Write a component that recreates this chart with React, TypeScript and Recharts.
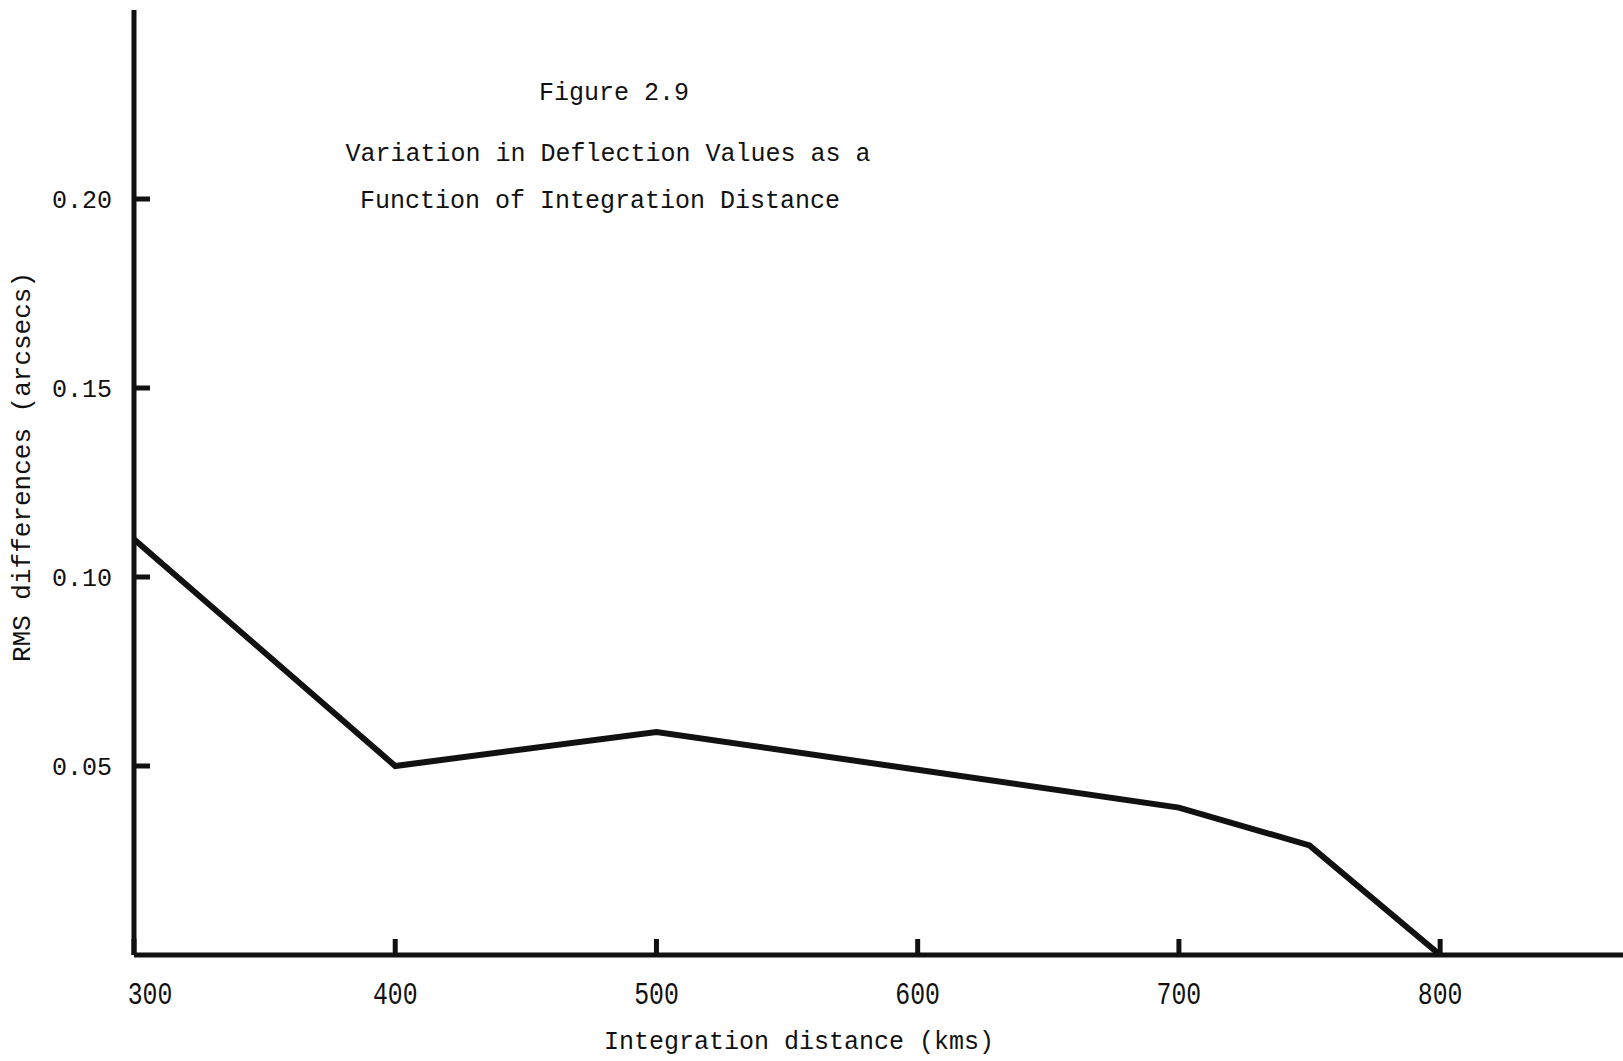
import { LineChart, Line, XAxis, YAxis } from 'recharts';

const distances = [300, 400, 500, 600, 700, 750, 800];
const rmsDiffs = [0.11, 0.05, 0.059, 0.049, 0.039, 0.029, 0.0];
const xTicks = [300, 400, 500, 600, 700, 800];
const yTicks = [0.05, 0.1, 0.15, 0.2];
const titleLines = ['Figure 2.9', 'Variation in Deflection Values as a', 'Function of Integration Distance'];

const data = distances.map((d, i) => ({ dist: d, rms: rmsDiffs[i] }));

const FONT = '"Liberation Mono", "DejaVu Sans Mono", monospace';
const INK = '#111';

function XTick(props: any) {
  const { x, y, payload } = props;
  // the 300 label sits a bit right of the corner in the original
  const shift = payload.value === 300 ? 16 : 0;
  return (
    <text
      transform={`translate(${x + shift} ${y}) scale(0.8 1)`}
      x={0}
      y={0}
      dy="0.71em"
      textAnchor="middle"
      fill={INK}
      fontSize={31}
      fontFamily={FONT}
    >
      {payload.value}
    </text>
  );
}

function YTick(props: any) {
  const { x, y, payload } = props;
  return (
    <text x={x} y={y} dy="0.35em" textAnchor="end" fill={INK} fontSize={25} fontFamily={FONT}>
      {payload.value.toFixed(2)}
    </text>
  );
}

const textStyle: React.CSSProperties = {
  position: 'absolute',
  fontFamily: FONT,
  fontSize: 25,
  color: INK,
  whiteSpace: 'nowrap',
  transform: 'translate(-50%, -50%)',
};

export default function App() {
  return (
    <div style={{ position: 'absolute', left: 0, top: 0, width: 1623, height: 1061, background: '#fff' }}>
      <LineChart width={1623} height={1061} data={data} margin={{ top: 10, right: 0, bottom: 0, left: 0 }}>
        <XAxis
          dataKey="dist"
          type="number"
          domain={[300, 870]}
          ticks={xTicks}
          height={106}
          stroke={INK}
          strokeWidth={5}
          tickSize={-16}
          tickMargin={43}
          tick={<XTick />}
        />
        <YAxis
          type="number"
          domain={[0, 0.25]}
          ticks={yTicks}
          width={134}
          stroke={INK}
          strokeWidth={5}
          tickSize={-16}
          tickMargin={38}
          tick={<YTick />}
        />
        <Line
          type="linear"
          dataKey="rms"
          stroke={INK}
          strokeWidth={6}
          dot={false}
          isAnimationActive={false}
        />
      </LineChart>

      <div style={{ ...textStyle, left: 614, top: 93 }}>{titleLines[0]}</div>
      <div style={{ ...textStyle, left: 608, top: 154 }}>{titleLines[1]}</div>
      <div style={{ ...textStyle, left: 600, top: 201 }}>{titleLines[2]}</div>

      <div style={{ ...textStyle, left: 799, top: 1042 }}>Integration distance (kms)</div>
      <div style={{ ...textStyle, fontSize: 26, left: 23, top: 467, transform: 'translate(-50%, -50%) rotate(-90deg)' }}>
        RMS differences (arcsecs)
      </div>
    </div>
  );
}
